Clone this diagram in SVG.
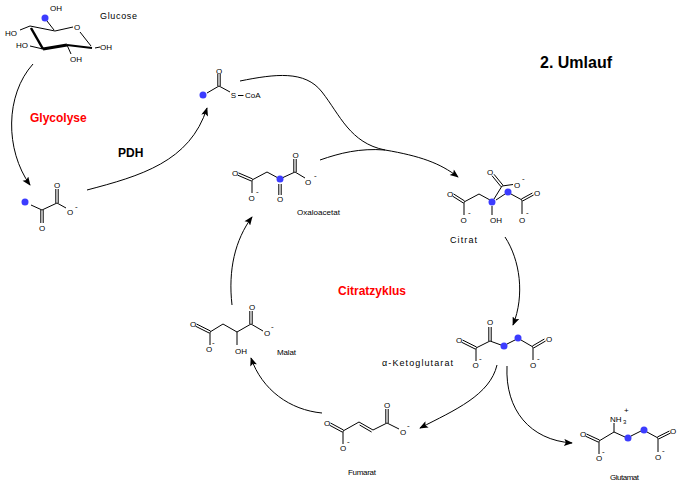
<svg xmlns="http://www.w3.org/2000/svg" width="680" height="487" viewBox="0 0 680 487">
<style>
.b{stroke:#000;stroke-width:1;fill:none}
.t{font-family:"Liberation Sans",Arial,sans-serif;font-size:8px;fill:#000}
.n{font-family:"Liberation Sans",Arial,sans-serif;font-size:9px;fill:#000}
.c{text-anchor:middle}
.m{font-family:"Liberation Sans",Arial,sans-serif;font-size:8px;fill:#000}
.d{fill:#3c3cff}
.arr{stroke:#000;stroke-width:1;fill:none;marker-end:url(#ah)}
.lb{font-family:"Liberation Sans",Arial,sans-serif;font-weight:bold;font-size:12px}
</style>
<defs>
<marker id="ah" viewBox="0 0 10 8" markerWidth="10" markerHeight="7" refX="9" refY="4" orient="auto" markerUnits="userSpaceOnUse">
<path d="M0,0 L10,4 L0,8 L2,4 z" fill="#000"/>
</marker>
</defs>
<rect width="680" height="487" fill="#fff"/>

<g id="glucose">
<line class="b" x1="30" y1="26" x2="55" y2="31"/>
<line class="b" x1="55" y1="31" x2="73" y2="27"/>
<text class="t c" x="77" y="30">O</text>
<line class="b" x1="80" y1="32" x2="91" y2="46"/>
<line class="b" style="stroke-width:2" x1="92" y1="48" x2="67" y2="45"/>
<line class="b" style="stroke-width:3" x1="67" y1="45" x2="43" y2="49"/>
<line class="b" style="stroke-width:2.5" x1="43" y1="49" x2="31" y2="28"/>
<line class="b" x1="20" y1="30" x2="30" y2="26"/>
<text class="t" x="5" y="36">HO</text>
<line class="b" x1="30" y1="46" x2="43" y2="49"/>
<text class="t" x="16" y="48">HO</text>
<line class="b" x1="67" y1="45" x2="71" y2="54"/>
<text class="t" x="70" y="62">OH</text>
<line class="b" x1="95" y1="48" x2="100" y2="47"/>
<text class="t" x="100" y="50">OH</text>
<line class="b" x1="47" y1="21" x2="54" y2="30"/>
<circle class="d" cx="45" cy="18" r="3.5"/>
<text class="t" x="50" y="11">OH</text>
<text class="n" x="100" y="19" textLength="37" lengthAdjust="spacing">Glucose</text>
</g>

<g id="pyruvat">
<circle class="d" cx="25" cy="202" r="3.5"/>
<line class="b" x1="31" y1="205" x2="42" y2="210"/>
<line class="b" x1="40.8" y1="210" x2="40.8" y2="223"/>
<line class="b" x1="43.2" y1="210" x2="43.2" y2="223"/>
<text class="t c" x="42" y="231">O</text>
<line class="b" x1="42" y1="210" x2="57" y2="203"/>
<line class="b" x1="55.8" y1="203" x2="55.8" y2="189"/>
<line class="b" x1="58.2" y1="203" x2="58.2" y2="189"/>
<text class="t c" x="57" y="188">O</text>
<line class="b" x1="57" y1="203" x2="66" y2="208"/>
<text class="t c" x="70" y="215">O</text>
<text class="m" x="75" y="209">-</text>
</g>

<g id="acetylcoa">
<circle class="d" cx="203" cy="95" r="3.5"/>
<line class="b" x1="207" y1="93" x2="219" y2="86"/>
<line class="b" x1="217.8" y1="86" x2="217.8" y2="74"/>
<line class="b" x1="220.2" y1="86" x2="220.2" y2="74"/>
<text class="t c" x="219" y="73.5">O</text>
<line class="b" x1="219" y1="86" x2="230" y2="92"/>
<text class="t c" x="233.5" y="98">S</text>
<line class="b" x1="238" y1="95.5" x2="243.5" y2="95.5"/>
<text class="t" x="245" y="98">CoA</text>
</g>

<g id="oxaloacetat">
<text class="t c" x="235" y="176">O</text>
<line class="b" x1="238.5" y1="172.9" x2="252.5" y2="178.9"/>
<line class="b" x1="237.5" y1="175.1" x2="251.5" y2="181.1"/>
<line class="b" x1="252" y1="180" x2="252" y2="193"/>
<text class="t c" x="251.5" y="201">O</text>
<text class="m" x="256" y="194">-</text>
<line class="b" x1="252" y1="180" x2="267" y2="172"/>
<line class="b" x1="267" y1="172" x2="280" y2="179"/>
<circle class="d" cx="280" cy="179" r="3.5"/>
<line class="b" x1="278.8" y1="184" x2="278.8" y2="195"/>
<line class="b" x1="281.2" y1="184" x2="281.2" y2="195"/>
<text class="t c" x="280" y="202">O</text>
<line class="b" x1="283" y1="177.5" x2="295" y2="172"/>
<line class="b" x1="293.8" y1="172" x2="293.8" y2="159"/>
<line class="b" x1="296.2" y1="172" x2="296.2" y2="159"/>
<text class="t c" x="295.5" y="158">O</text>
<line class="b" x1="295" y1="172" x2="305" y2="178"/>
<text class="t c" x="308" y="185">O</text>
<text class="m" x="314" y="178">-</text>
<text class="t" x="297" y="215" textLength="43" lengthAdjust="spacing">Oxaloacetat</text>
</g>

<g id="citrat">
<text class="t c" x="450" y="197">O</text>
<line class="b" x1="453.5" y1="193.9" x2="464.5" y2="200.9"/>
<line class="b" x1="452.5" y1="196.1" x2="463.5" y2="203.1"/>
<line class="b" x1="464" y1="202" x2="464" y2="215"/>
<text class="t c" x="463.5" y="223">O</text>
<text class="m" x="468" y="215">-</text>
<line class="b" x1="464" y1="202" x2="479" y2="194"/>
<line class="b" x1="479" y1="194" x2="490" y2="200"/>
<circle class="d" cx="492" cy="202" r="3.5"/>
<line class="b" x1="492" y1="206" x2="492" y2="215"/>
<text class="t c" x="496" y="223">OH</text>
<line class="b" x1="494" y1="199" x2="502" y2="186"/>
<line class="b" x1="503" y1="185.3" x2="494" y2="174.3"/>
<line class="b" x1="501" y1="186.7" x2="492" y2="175.7"/>
<text class="t c" x="490" y="175">O</text>
<line class="b" x1="502" y1="186" x2="513" y2="184.5"/>
<text class="t c" x="517" y="188">O</text>
<text class="m" x="522" y="181">-</text>
<line class="b" x1="496" y1="200" x2="505" y2="194"/>
<circle class="d" cx="508" cy="192" r="3.5"/>
<line class="b" x1="511" y1="194" x2="522" y2="200"/>
<line class="b" x1="521.4" y1="199" x2="532.4" y2="193"/>
<line class="b" x1="522.6" y1="201" x2="533.6" y2="195"/>
<text class="t c" x="537" y="196">O</text>
<line class="b" x1="522" y1="200" x2="522" y2="214"/>
<text class="t c" x="522" y="223">O</text>
<text class="m" x="526" y="215">-</text>
<text class="n" x="450" y="243" textLength="27" lengthAdjust="spacing">Citrat</text>
</g>

<g id="ketoglutarat">
<text class="t c" x="459" y="343">O</text>
<line class="b" x1="462.5" y1="340" x2="476.5" y2="347"/>
<line class="b" x1="461.5" y1="342.2" x2="475.5" y2="349.2"/>
<line class="b" x1="476" y1="348" x2="476" y2="361"/>
<text class="t c" x="475.5" y="368">O</text>
<text class="m" x="479" y="361">-</text>
<line class="b" x1="476" y1="348" x2="490" y2="341"/>
<line class="b" x1="488.8" y1="341" x2="488.8" y2="327"/>
<line class="b" x1="491.2" y1="341" x2="491.2" y2="327"/>
<text class="t c" x="490" y="325">O</text>
<line class="b" x1="490" y1="341" x2="501" y2="345"/>
<circle class="d" cx="504" cy="346" r="3.5"/>
<line class="b" x1="507" y1="344" x2="515" y2="340"/>
<circle class="d" cx="518" cy="338" r="3.5"/>
<line class="b" x1="521" y1="340" x2="533" y2="347"/>
<line class="b" x1="532.4" y1="346" x2="544.4" y2="339"/>
<line class="b" x1="533.6" y1="348" x2="545.6" y2="341"/>
<text class="t c" x="549" y="342">O</text>
<line class="b" x1="533" y1="347" x2="533" y2="360"/>
<text class="t c" x="533" y="368">O</text>
<text class="m" x="537" y="361">-</text>
<text class="n" x="382" y="366" textLength="71" lengthAdjust="spacing">α-Ketoglutarat</text>
</g>

<g id="glutamat">
<text class="t" x="610" y="422">NH</text>
<text class="t" style="font-size:6px" x="623" y="424">3</text>
<text class="t" x="624" y="413">+</text>
<line class="b" x1="614" y1="423" x2="614" y2="432"/>
<text class="t c" x="583" y="437">O</text>
<line class="b" x1="586.5" y1="434" x2="599.5" y2="440"/>
<line class="b" x1="585.5" y1="436.2" x2="598.5" y2="442.2"/>
<line class="b" x1="599" y1="441" x2="599" y2="454"/>
<text class="t c" x="599" y="461">O</text>
<text class="m" x="602" y="454">-</text>
<line class="b" x1="599" y1="441" x2="614" y2="432"/>
<line class="b" x1="614" y1="432" x2="625" y2="437"/>
<circle class="d" cx="628" cy="438" r="3.5"/>
<line class="b" x1="631" y1="436" x2="641" y2="431"/>
<circle class="d" cx="644" cy="430" r="3.5"/>
<line class="b" x1="647" y1="432" x2="658" y2="438"/>
<line class="b" x1="657.4" y1="437" x2="669.4" y2="431"/>
<line class="b" x1="658.6" y1="439" x2="670.6" y2="433"/>
<text class="t c" x="673" y="434">O</text>
<line class="b" x1="658" y1="438" x2="658" y2="452"/>
<text class="t c" x="658" y="460">O</text>
<text class="m" x="662" y="453">-</text>
<text class="t" x="610" y="480" textLength="29" lengthAdjust="spacing">Glutamat</text>
</g>

<g id="fumarat">
<text class="t c" x="327" y="426">O</text>
<line class="b" x1="330.5" y1="423" x2="343.5" y2="430"/>
<line class="b" x1="329.5" y1="425.2" x2="342.5" y2="432.2"/>
<line class="b" x1="343" y1="431" x2="343" y2="444"/>
<text class="t c" x="343" y="451">O</text>
<text class="m" x="347" y="444">-</text>
<line class="b" x1="343" y1="431" x2="359" y2="422"/>
<line class="b" x1="359" y1="422" x2="373" y2="430"/>
<line class="b" x1="359.6" y1="425" x2="371.6" y2="432"/>
<line class="b" x1="373" y1="430" x2="387" y2="423"/>
<line class="b" x1="385.8" y1="423" x2="385.8" y2="409"/>
<line class="b" x1="388.2" y1="423" x2="388.2" y2="409"/>
<text class="t c" x="387" y="408">O</text>
<line class="b" x1="387" y1="423" x2="399" y2="429"/>
<text class="t c" x="403" y="435">O</text>
<text class="m" x="407" y="428">-</text>
<text class="t" x="348" y="475" textLength="28" lengthAdjust="spacing">Fumarat</text>
</g>

<g id="malat">
<text class="t c" x="193" y="327">O</text>
<line class="b" x1="196.5" y1="324" x2="210.5" y2="331"/>
<line class="b" x1="195.5" y1="326.2" x2="209.5" y2="333.2"/>
<line class="b" x1="210" y1="332" x2="210" y2="345"/>
<text class="t c" x="209" y="352">O</text>
<text class="m" x="212" y="345">-</text>
<line class="b" x1="210" y1="332" x2="223" y2="324"/>
<line class="b" x1="223" y1="324" x2="237" y2="332"/>
<line class="b" x1="237" y1="332" x2="237" y2="345"/>
<text class="t c" x="241" y="354">OH</text>
<line class="b" x1="237" y1="332" x2="251" y2="324"/>
<line class="b" x1="249.8" y1="324" x2="249.8" y2="311"/>
<line class="b" x1="252.2" y1="324" x2="252.2" y2="311"/>
<text class="t c" x="252" y="310">O</text>
<line class="b" x1="251" y1="324" x2="263" y2="331"/>
<text class="t c" x="267" y="336">O</text>
<text class="m" x="271" y="329">-</text>
<text class="t" x="277" y="355" textLength="19" lengthAdjust="spacing">Malat</text>
</g>

<g id="labels">
<text class="lb" x="540" y="68" style="font-size:16px">2. Umlauf</text>
<text class="lb" x="30" y="122" fill="#ff0000">Glycolyse</text>
<text class="lb" x="118" y="157">PDH</text>
<text class="lb" x="338" y="295" fill="#ff0000">Citratzyklus</text>
</g>

<g id="connectors">
<path class="arr" d="M33,64 C5,95 5,150 30,185"/>
<path class="arr" d="M87,190 C140,176 190,162 207,108"/>
<path class="arr" d="M240,81 C275,74 305,70 322,92 C340,115 350,143 385,150 C420,156 440,163 458,177"/>
<path class="b" d="M320,160 C340,153 360,148 385,150"/>
<path class="arr" d="M505,237 C520,260 525,295 513,325"/>
<path class="arr" d="M497,365 C490,395 455,410 420,428"/>
<path class="arr" d="M507,366 C505,410 530,440 572,443"/>
<path class="arr" d="M322,413 C290,410 262,390 251,358"/>
<path class="arr" d="M232,305 C228,270 235,240 252,217"/>
</g>
</svg>
